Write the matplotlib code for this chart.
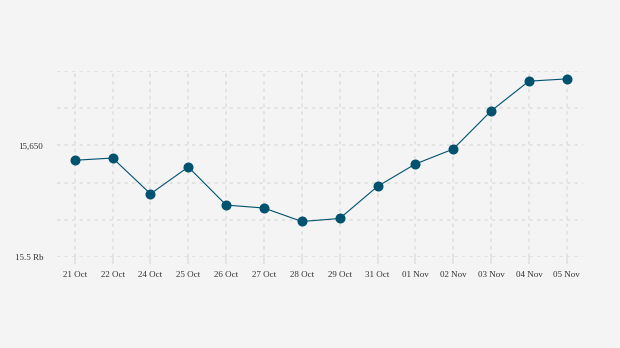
import matplotlib.pyplot as plt

# -- Datos --
DATES = ["21 Oct", "22 Oct", "24 Oct", "25 Oct", "26 Oct", "27 Oct", "28 Oct",
         "29 Oct", "31 Oct", "01 Nov", "02 Nov", "03 Nov", "04 Nov", "05 Nov"]
VALUES = [15630, 15633, 15585, 15621, 15570, 15566, 15548,
          15552, 15595, 15625, 15645, 15696, 15736, 15739]
Y_TICKS = [15500, 15550, 15600, 15650, 15700, 15750]
Y_LABELS = ["15.5 Rb", "", "", "15,650", "", ""]

BG = "#f4f4f4"
LINE = "#00526e"
GRID = "#e0e0e0"

plt.rcParams["font.family"] = ["Liberation Serif", "DejaVu Serif"]

fig = plt.figure(figsize=(6.2, 3.48), dpi=100, facecolor=BG)
ax = fig.add_axes([57 / 620, 1 - 257.3 / 348, (583 - 57) / 620, (257.3 - 70.7) / 348])
ax.set_facecolor(BG)

x = list(range(len(DATES)))
ax.plot(x, VALUES, color=LINE, linewidth=0.8, marker="o", markersize=6.2,
        markerfacecolor=LINE, markeredgecolor=LINE, zorder=3)

ax.set_xlim(-0.47, 13.43)
ax.set_ylim(15500, 15750)
ax.set_xticks(x)
ax.set_xticklabels(DATES)
ax.set_yticks(Y_TICKS)
ax.set_yticklabels(Y_LABELS)

ax.grid(True, color=GRID, linestyle=(0, (2, 2.5)), linewidth=1.2, zorder=0)
ax.set_axisbelow(True)
for s in ax.spines.values():
    s.set_visible(False)

ax.tick_params(axis="x", length=5, width=1.2, color=GRID, pad=5,
               labelsize=6.5, labelcolor="#333333")
ax.tick_params(axis="y", length=0, pad=10, labelsize=6.5, labelcolor="#333333")

fig.savefig("out.png", dpi=100, facecolor=BG)
